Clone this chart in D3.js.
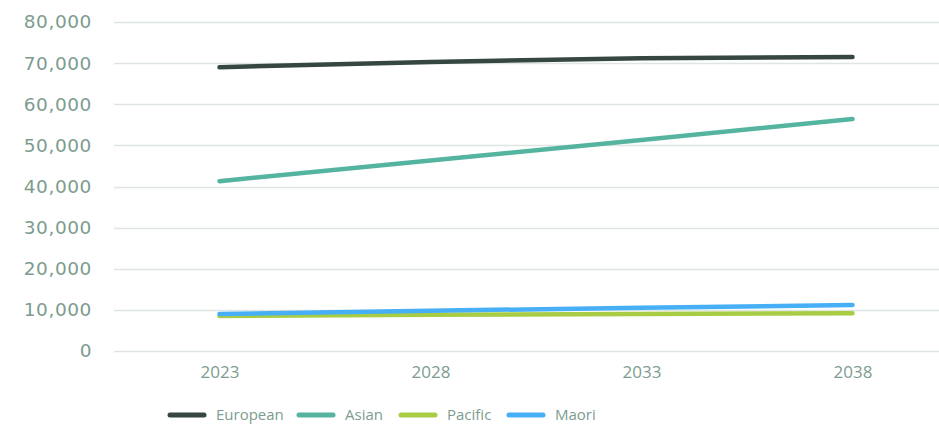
<!DOCTYPE html>
<html>
<head>
<meta charset="utf-8">
<script src="https://cdn.jsdelivr.net/npm/d3@7"></script>
<style>
	body { margin: 0; background: #fff; }
	svg { display: block; }
</style>
</head>
<body>
<div id="chart"></div>
<script>
// data
var years = ["2023", "2028", "2033", "2038"];
var european = [69000, 70300, 71200, 71500];
var asian = [41300, 46300, 51300, 56400];
var pacific = [8500, 8800, 9000, 9200];
var maori = [9000, 9800, 10500, 11200];
var yTicks = [0, 10000, 20000, 30000, 40000, 50000, 60000, 70000, 80000];

var seriesNames = ["European", "Asian", "Pacific", "Maori"];
var seriesColors = ["#354740", "#55b4a0", "#a8cd45", "#46aff5"];

var width = 939,
	height = 425;

var margin = {
	top: 22,
	left: 114,
	bottom: 74
};

var textColor = "#7c9c8e";

var svg = d3.select("#chart")
	.append("svg")
	.attr("width", width)
	.attr("height", height);

var x = d3.scalePoint()
	.domain(years)
	.range([margin.left + 105.5, margin.left + 105.5 + 3 * 211])

var y = d3.scaleLinear()
	.domain([0, 80000])
	.range([height - margin.bottom, margin.top]);

// gridlines
svg.append("g")
	.selectAll("line")
	.data(yTicks)
	.enter()
	.append("line")
	.attr("x1", margin.left)
	.attr("x2", width)
	.attr("y1", function (d) { return Math.round(y(d)) + 0.5; })
	.attr("y2", function (d) { return Math.round(y(d)) + 0.5; })
	.attr("stroke", "#dfe5e2")
	.attr("stroke-width", 1.5);

// y axis labels
var yAxis = d3.axisLeft(y)
	.tickValues(yTicks)
	.tickSize(0)
	.tickPadding(0)
	.tickFormat(d3.format(","));

var gy = svg.append("g")
	.attr("transform", "translate(92,0)")
	.call(yAxis);
gy.select(".domain").remove();
gy.selectAll("text")
	.attr("fill", textColor)
	.style("font-family", "DejaVu Sans")
	.style("font-size", "18.5px")
	.style("letter-spacing", "0.6px");

// x axis labels
var xAxis = d3.axisBottom(x)
	.tickSize(0)
	.tickPadding(0);

var gx = svg.append("g")
	.attr("transform", "translate(0,366)")
	.call(xAxis);
gx.select(".domain").remove();
gx.selectAll("text")
	.attr("fill", textColor)
	.style("font-family", "Open Sans")
	.style("font-size", "17px");

var line = d3.line()
	.x(function (d, i) { return x(years[i]); })
	.y(function (d) { return y(d); });

var allSeries = [european, asian, pacific, maori];

// draw Pacific before Maori so blue sits on top
svg.append("g")
	.selectAll("path")
	.data(allSeries)
	.enter()
	.append("path")
	.attr("d", function (d) { return line(d); })
	.attr("fill", "none")
	.attr("stroke", function (d, i) { return seriesColors[i]; })
	.attr("stroke-width", 4.5)
	.attr("stroke-linecap", "round")
	.attr("stroke-linejoin", "round");

// legend
var legendX = [168, 297, 399, 507];
var legend = svg.append("g")
	.selectAll("g")
	.data(seriesNames)
	.enter()
	.append("g")
	.attr("transform", function (d, i) { return "translate(" + legendX[i] + ",415)"; });

legend.append("line")
	.attr("x1", 2)
	.attr("x2", 36)
	.attr("stroke", function (d, i) { return seriesColors[i]; })
	.attr("stroke-width", 5)
	.attr("stroke-linecap", "round");

legend.append("text")
	.attr("x", 48)
	.attr("dy", "0.35em")
	.attr("fill", textColor)
	.style("font-family", "Open Sans")
	.style("font-size", "15px")
	.text(function (d) { return d; });
</script>
</body>
</html>
